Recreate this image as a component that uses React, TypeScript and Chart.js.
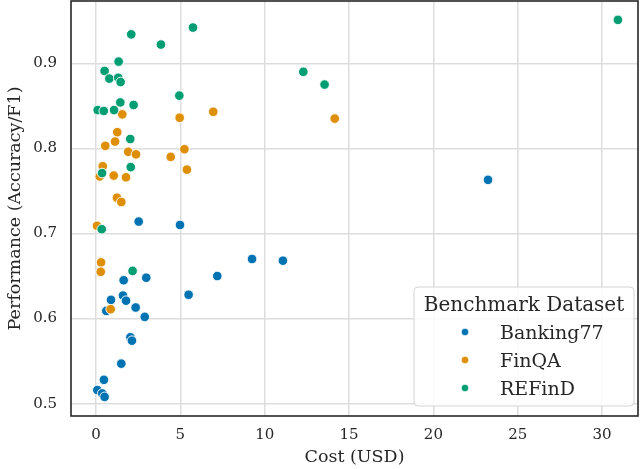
import React, { useEffect, useRef } from "react";
import { Chart, registerables } from "chart.js";

Chart.register(...registerables);

const FONT = "'DejaVu Serif', serif";
const TEXT = "#262626";

const datasetNames = ["Banking77", "FinQA", "REFinD"];
const datasetColors = ["#0173B2", "#DE8F05", "#029E73"];

const bankingCost = [2.53, 4.98, 23.24, 9.25, 11.08, 7.19, 1.64, 2.98, 5.49, 0.89, 1.6, 1.78, 0.61, 2.35, 2.89, 2.04, 2.13, 1.5, 0.47, 0.08, 0.37, 0.51];
const bankingPerf = [0.714, 0.71, 0.763, 0.67, 0.668, 0.65, 0.645, 0.648, 0.628, 0.622, 0.627, 0.621, 0.609, 0.613, 0.602, 0.578, 0.574, 0.547, 0.528, 0.516, 0.512, 0.508];

const finqaCost = [1.56, 4.96, 6.95, 14.15, 1.26, 1.13, 0.55, 1.91, 2.37, 4.43, 5.24, 5.39, 0.4, 0.22, 1.05, 1.78, 1.24, 1.5, 0.06, 0.3, 0.28, 0.87];
const finqaPerf = [0.84, 0.836, 0.843, 0.835, 0.819, 0.808, 0.803, 0.796, 0.793, 0.79, 0.799, 0.775, 0.779, 0.767, 0.768, 0.766, 0.742, 0.737, 0.709, 0.666, 0.655, 0.611];

const refindCost = [2.09, 3.85, 5.75, 30.94, 1.34, 0.51, 0.79, 1.32, 1.46, 12.29, 13.55, 4.94, 1.44, 2.23, 0.1, 0.46, 1.07, 2.03, 2.06, 0.36, 0.34, 2.17];
const refindPerf = [0.934, 0.922, 0.942, 0.951, 0.902, 0.891, 0.882, 0.883, 0.878, 0.89, 0.875, 0.862, 0.854, 0.851, 0.845, 0.844, 0.845, 0.811, 0.778, 0.771, 0.705, 0.656];

const xTicks = [0, 5, 10, 15, 20, 25, 30];
const yTicks = [0.5, 0.6, 0.7, 0.8, 0.9];

const legendTitle = "Benchmark Dataset";
const xTitle = "Cost (USD)";
const yTitle = "Performance (Accuracy/F1)";

function toPoints(xs: number[], ys: number[]) {
  return xs.map((x, i) => ({ x, y: ys[i] }));
}

function roundRectPath(ctx: CanvasRenderingContext2D, x: number, y: number, w: number, h: number, r: number) {
  ctx.beginPath();
  ctx.moveTo(x + r, y);
  ctx.lineTo(x + w - r, y);
  ctx.arcTo(x + w, y, x + w, y + r, r);
  ctx.lineTo(x + w, y + h - r);
  ctx.arcTo(x + w, y + h, x + w - r, y + h, r);
  ctx.lineTo(x + r, y + h);
  ctx.arcTo(x, y + h, x, y + h - r, r);
  ctx.lineTo(x, y + r);
  ctx.arcTo(x, y, x + r, y, r);
  ctx.closePath();
}

const framePlugin = {
  id: "frameAndLegend",
  afterDatasetsDraw(chart: any) {
    const { ctx, chartArea: a } = chart;
    ctx.save();
    ctx.strokeStyle = TEXT;
    ctx.lineWidth = 1.6;
    ctx.strokeRect(a.left, a.top, a.right - a.left, a.bottom - a.top);
    ctx.restore();
  },
  afterDraw(chart: any) {
    const { ctx, chartArea: a } = chart;
    const boxW = 220;
    const boxH = 119;
    const bx = a.right - 4 - boxW;
    const by = a.bottom - 10 - boxH;
    ctx.save();
    roundRectPath(ctx, bx, by, boxW, boxH, 4);
    ctx.fillStyle = "rgba(255,255,255,0.85)";
    ctx.fill();
    ctx.strokeStyle = "#d4d4d4";
    ctx.lineWidth = 1;
    ctx.stroke();

    ctx.fillStyle = TEXT;
    ctx.font = `20px ${FONT}`;
    ctx.textAlign = "center";
    ctx.textBaseline = "alphabetic";
    ctx.fillText(legendTitle, bx + boxW / 2, by + 24);

    ctx.font = `19px ${FONT}`;
    ctx.textAlign = "left";
    chart.data.datasets.forEach((ds: any, i: number) => {
      const cy = by + 45 + i * 28;
      ctx.beginPath();
      ctx.arc(bx + 51, cy, 3.8, 0, Math.PI * 2);
      ctx.fillStyle = ds.backgroundColor;
      ctx.fill();
      ctx.strokeStyle = "#ffffff";
      ctx.lineWidth = 0.8;
      ctx.stroke();
      ctx.fillStyle = TEXT;
      ctx.fillText(ds.label, bx + 86, cy + 7);
    });
    ctx.restore();
  },
};

export default function App() {
  const canvasRef = useRef<HTMLCanvasElement | null>(null);

  useEffect(() => {
    document.body.style.margin = "0";
    const canvas = canvasRef.current;
    if (!canvas) return;
    const series = [
      toPoints(bankingCost, bankingPerf),
      toPoints(finqaCost, finqaPerf),
      toPoints(refindCost, refindPerf),
    ];
    const chart = new Chart(canvas, {
      type: "scatter",
      data: {
        datasets: series.map((pts, i) => ({
          label: datasetNames[i],
          data: pts,
          backgroundColor: datasetColors[i],
          borderColor: "#ffffff",
          borderWidth: 0.9,
          pointRadius: 4.8,
          pointHoverRadius: 4.8,
          order: 3 - i,
        })),
      },
      options: {
        animation: false,
        responsive: false,
        maintainAspectRatio: false,
        events: [],
        layout: { autoPadding: false, padding: { top: 1, right: 2, left: 0, bottom: 0 } },
        plugins: {
          legend: { display: false },
          tooltip: { enabled: false },
          title: { display: false },
        },
        scales: {
          x: {
            type: "linear",
            min: -1.482,
            max: 32.13,
            afterBuildTicks: (scale: any) => {
              scale.ticks = xTicks.map((v) => ({ value: v }));
            },
            afterFit: (scale: any) => {
              scale.height = 53;
              scale.paddingLeft = 0;
              scale.paddingRight = 0;
              scale.paddingTop = 0;
              scale.paddingBottom = 0;
            },
            ticks: {
              padding: 10,
              color: TEXT,
              font: { family: FONT, size: 15 },
              callback: (v: any) => String(v),
              maxRotation: 0,
            },
            grid: { color: "#dddddd", lineWidth: 1.5, drawTicks: false },
            border: { display: false },
            title: {
              display: true,
              text: xTitle,
              color: TEXT,
              font: { family: FONT, size: 17.5 },
              padding: { top: 0, bottom: 1 },
            },
          },
          y: {
            type: "linear",
            min: 0.4855,
            max: 0.9732,
            afterBuildTicks: (scale: any) => {
              scale.ticks = yTicks.map((v) => ({ value: v }));
            },
            afterFit: (scale: any) => {
              scale.width = 71;
              scale.paddingLeft = 0;
              scale.paddingRight = 0;
              scale.paddingTop = 0;
              scale.paddingBottom = 0;
            },
            ticks: {
              padding: 14,
              color: TEXT,
              font: { family: FONT, size: 15 },
              callback: (v: any) => Number(v).toFixed(1),
            },
            grid: { color: "#dddddd", lineWidth: 1.5, drawTicks: false },
            border: { display: false },
            title: {
              display: true,
              text: yTitle,
              color: TEXT,
              font: { family: FONT, size: 17.5 },
              padding: { top: 5, bottom: 0 },
            },
          },
        },
      },
      plugins: [framePlugin],
    });
    return () => chart.destroy();
  }, []);

  return (
    <div style={{ width: 640, height: 469 }}>
      <canvas ref={canvasRef} width={640} height={469} style={{ display: "block", width: 640, height: 469 }} />
    </div>
  );
}
